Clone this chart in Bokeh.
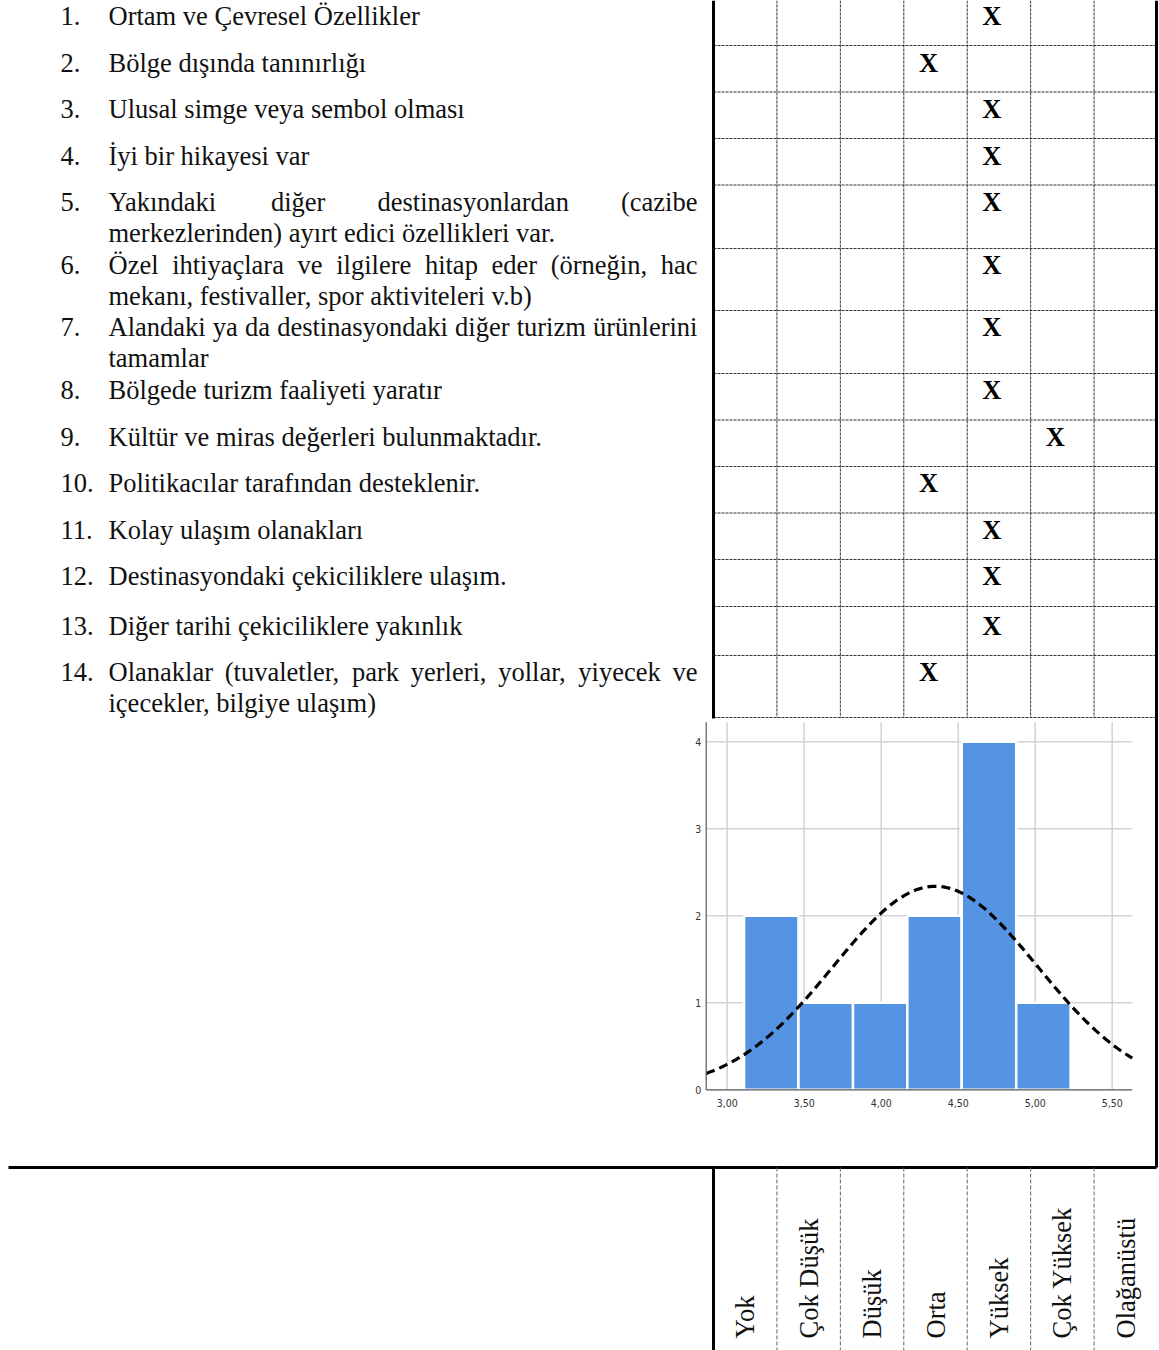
import math
from bokeh.plotting import figure
from bokeh.models import Range1d, ColumnDataSource
from bokeh.embed import file_html
from bokeh.resources import INLINE
from bokeh.core.properties import value

# ---------------- data ----------------
ITEM_LINES = [
    ["Ortam ve Çevresel Özellikler"],
    ["Bölge dışında tanınırlığı"],
    ["Ulusal simge veya sembol olması"],
    ["İyi bir hikayesi var"],
    ["Yakındaki diğer destinasyonlardan (cazibe", "merkezlerinden) ayırt edici özellikleri var."],
    ["Özel ihtiyaçlara ve ilgilere hitap eder (örneğin, hac", "mekanı, festivaller, spor aktiviteleri v.b)"],
    ["Alandaki ya da destinasyondaki diğer turizm ürünlerini", "tamamlar"],
    ["Bölgede turizm faaliyeti yaratır"],
    ["Kültür ve miras değerleri bulunmaktadır."],
    ["Politikacılar tarafından desteklenir."],
    ["Kolay ulaşım olanakları"],
    ["Destinasyondaki çekiciliklere ulaşım."],
    ["Diğer tarihi çekiciliklere yakınlık"],
    ["Olanaklar (tuvaletler, park yerleri, yollar, yiyecek ve", "içecekler, bilgiye ulaşım)"],
]
ITEM_NUMBERS = [f"{i}." for i in range(1, 15)]
CATEGORIES = ["Yok", "Çok Düşük", "Düşük", "Orta", "Yüksek", "Çok Yüksek", "Olağanüstü"]
# index into CATEGORIES of the marked cell for each item
RATINGS = [4, 3, 4, 4, 4, 4, 4, 4, 5, 3, 4, 4, 4, 3]

HIST_EDGES = [3.110, 3.463, 3.817, 4.170, 4.523, 4.877, 5.230]
HIST_COUNTS = [2, 1, 1, 2, 4, 1]
X_TICKS = [3.0, 3.5, 4.0, 4.5, 5.0, 5.5]
X_TICK_LABELS = ["3,00", "3,50", "4,00", "4,50", "5,00", "5,50"]
Y_TICKS = [0, 1, 2, 3, 4]
Y_TICK_LABELS = ["0", "1", "2", "3", "4"]
NORM_MEAN = 4.352
NORM_SD = 0.663
NORM_N = 11

# ---------------- layout (reference pixel coordinates) ----------------
W, H = 1159, 1350
OFF = 0
FONT = "Liberation Serif"
FS = 26.5
LINE_GAP = 31
NUM_X = 60
TXT_L, TXT_R = 108, 697
ITEM_Y = [15, 62, 108, 155, 201, 264, 326, 389, 436, 482, 529, 575, 625, 671]
ROW_BOUNDS = [45, 91.5, 138, 184.5, 248, 310, 373, 419.5, 466, 512.5, 559, 606, 655, 717]
TAB_X0 = 713
COLW = 63.43
TAB_RIGHT = 1156
HLINE_Y = 1167
HLINE_X0 = 8
HEAD_BOTTOM = 1338

HIST_LEFT, HIST_RIGHT = 705.7, 1131.7
HIST_XMIN, HIST_XMAX = 2.864, 5.630
HIST_TOP, HIST_BOTTOM = 721.7, 1089.3
HIST_YMIN, HIST_YMAX = 0.0, 4.225

TIMES_W = {
    " ": 250, "(": 333, ")": 333, ",": 250, ".": 250,
    "A": 722, "O": 722, "Y": 722, "Ö": 722,
    "a": 444, "b": 500, "c": 444, "d": 500, "e": 444, "f": 333, "g": 500,
    "h": 500, "i": 278, "ı": 278, "j": 278, "k": 500, "l": 278, "m": 778,
    "n": 500, "o": 500, "p": 500, "r": 333, "s": 389, "t": 278, "u": 500,
    "v": 500, "y": 500, "z": 444, "ç": 444, "ğ": 500, "ö": 500, "ü": 500, "ş": 389,
}


def tw(s):
    return sum(TIMES_W.get(c, 500) for c in s) * FS / 1000.0


p = figure(width=W, height=H, output_backend="svg", toolbar_location=None,
           x_range=Range1d(OFF, OFF + W), y_range=Range1d(OFF + H, OFF),
           x_axis_type=None, y_axis_type=None, min_border=0,
           background_fill_color="white", border_fill_color="white")
p.outline_line_color = None
p.grid.visible = False

# histogram coordinate system mapped onto its pixel box
sx = (HIST_XMAX - HIST_XMIN) / (HIST_RIGHT - HIST_LEFT)
sy = (HIST_YMAX - HIST_YMIN) / (HIST_BOTTOM - HIST_TOP)
p.extra_x_ranges = {"hx": Range1d(HIST_XMIN + (OFF - HIST_LEFT) * sx,
                                  HIST_XMIN + (OFF + W - HIST_LEFT) * sx)}
p.extra_y_ranges = {"hy": Range1d(HIST_YMIN + (HIST_BOTTOM - (OFF + H)) * sy,
                                  HIST_YMIN + (HIST_BOTTOM - OFF) * sy)}

# ---------------- left text column ----------------
tx, ty, tt, ta = [], [], [], []
for num, lines, y0 in zip(ITEM_NUMBERS, ITEM_LINES, ITEM_Y):
    tx.append(NUM_X); ty.append(y0); tt.append(num); ta.append("left")
    for li, line in enumerate(lines):
        y = y0 + li * LINE_GAP
        justify = (li < len(lines) - 1)
        if justify:
            words = line.split(" ")
            widths = [tw(w) for w in words]
            gap = (TXT_R - TXT_L - sum(widths)) / (len(words) - 1)
            x = TXT_L
            for w, wd in zip(words, widths):
                tx.append(x); ty.append(y); tt.append(w); ta.append("left")
                x += wd + gap
        else:
            tx.append(TXT_L); ty.append(y); tt.append(line); ta.append("left")

p.text(x="x", y="y", text="text", text_align="align",
       source=ColumnDataSource(dict(x=tx, y=ty, text=tt, align=ta)),
       text_font=value(FONT), text_font_size=f"{FS}px", text_baseline="middle",
       text_color="#111111")

# ---------------- rating table ----------------
col_x = [TAB_X0 + k * COLW for k in range(len(CATEGORIES))]
inner_x = col_x[1:]
p.segment(x0=inner_x, x1=inner_x, y0=[OFF] * len(inner_x), y1=[ROW_BOUNDS[-1]] * len(inner_x),
          line_color="#333333", line_width=1, line_dash="3 1")
p.segment(x0=[TAB_X0] * len(ROW_BOUNDS), x1=[TAB_RIGHT] * len(ROW_BOUNDS),
          y0=ROW_BOUNDS, y1=ROW_BOUNDS, line_color="#333333", line_width=1, line_dash="3 1")
# solid borders
p.segment(x0=[TAB_X0, TAB_RIGHT], x1=[TAB_X0, TAB_RIGHT], y0=[OFF, OFF], y1=[ROW_BOUNDS[-1] + 1, HLINE_Y],
          line_color="black", line_width=3)

mx = [TAB_X0 + (r + 0.5) * COLW for r in RATINGS]
p.text(x=mx, y=ITEM_Y, text=["X"] * len(RATINGS), text_font=value(FONT),
       text_font_size=f"{FS}px", text_font_style="bold", text_align="center",
       text_baseline="middle", x_offset=-7, text_color="black")

# ---------------- histogram ----------------
kw = dict(x_range_name="hx", y_range_name="hy")
p.segment(x0=X_TICKS, x1=X_TICKS, y0=[HIST_YMIN] * len(X_TICKS), y1=[HIST_YMAX] * len(X_TICKS),
          line_color="#d3d3d3", line_width=1.5, **kw)
p.segment(x0=[HIST_XMIN] * 4, x1=[HIST_XMAX] * 4, y0=Y_TICKS[1:], y1=Y_TICKS[1:],
          line_color="#d3d3d3", line_width=1.5, **kw)
p.quad(left=HIST_EDGES[:-1], right=HIST_EDGES[1:], bottom=[0] * len(HIST_COUNTS), top=HIST_COUNTS,
       fill_color="#5593e3", line_color="white", line_width=2.5, **kw)

bw = (HIST_EDGES[-1] - HIST_EDGES[0]) / len(HIST_COUNTS)
nx = [HIST_XMIN + (HIST_XMAX - HIST_XMIN) * i / 300 for i in range(301)]
ny = [NORM_N * bw / (NORM_SD * math.sqrt(2 * math.pi)) *
      math.exp(-0.5 * ((v - NORM_MEAN) / NORM_SD) ** 2) for v in nx]
p.line(nx, ny, line_color="black", line_width=3.2, line_dash="9 5", **kw)

p.segment(x0=[HIST_XMIN, HIST_XMIN], x1=[HIST_XMIN, HIST_XMAX], y0=[HIST_YMIN, HIST_YMIN],
          y1=[HIST_YMAX, HIST_YMIN], line_color="#555555", line_width=1.2, **kw)

TICK_FONT = "Liberation Sans Narrow, Arial Narrow, DejaVu Sans Condensed, Liberation Sans"
p.text(x=[HIST_XMIN] * len(Y_TICKS), y=Y_TICKS, text=Y_TICK_LABELS, x_offset=-5,
       text_align="right", text_baseline="middle", text_font=value(TICK_FONT),
       text_font_size="10.5px", text_color="#333333", **kw)
p.text(x=X_TICKS, y=[HIST_YMIN] * len(X_TICKS), text=X_TICK_LABELS, y_offset=9,
       text_align="center", text_baseline="top", text_font=value(TICK_FONT),
       text_font_size="10.5px", text_color="#333333", **kw)

# ---------------- header row ----------------
p.segment(x0=[HLINE_X0, TAB_X0], x1=[TAB_RIGHT, TAB_X0], y0=[HLINE_Y, HLINE_Y], y1=[HLINE_Y, OFF + H],
          line_color="black", line_width=3)
p.segment(x0=inner_x, x1=inner_x, y0=[HLINE_Y] * len(inner_x), y1=[OFF + H] * len(inner_x),
          line_color="#666666", line_width=1, line_dash="4 2")
hx = [c + COLW / 2 for c in col_x]
p.text(x=hx, y=[HEAD_BOTTOM] * len(CATEGORIES), text=CATEGORIES, angle=math.pi / 2,
       text_align="left", text_baseline="middle", text_font=value(FONT),
       text_font_size=f"{FS}px", text_color="#111111")

open("out.html", "w").write(file_html(p, INLINE))
